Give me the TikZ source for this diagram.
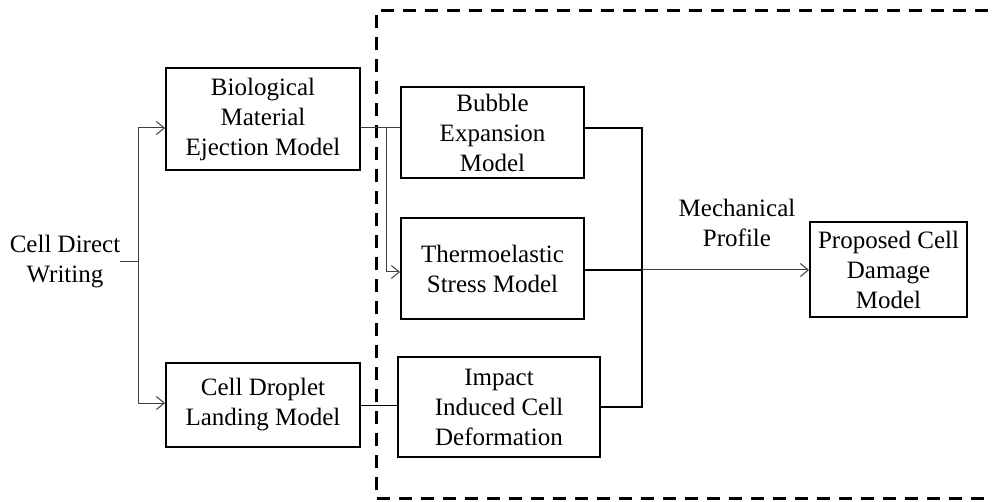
\documentclass[tikz,border=0pt]{standalone}
\usepackage{fontspec}
\setmainfont{Liberation Serif}
\usetikzlibrary{arrows.meta}
\begin{document}
\begin{tikzpicture}[x=1pt,y=-1pt,
  font=\fontsize{25}{30}\selectfont,
  model/.style={draw=black, line width=1.8pt, align=center, inner sep=0pt},
  label/.style={align=center, inner sep=0pt},
  thin/.style={line width=1pt, draw=black!75},
  bold/.style={line width=1.7pt, draw=black},
  arr/.style={-{Straight Barb[length=8pt,width=13pt,line width=1pt]}},
  group/.style={line width=3pt, dash pattern=on 13pt off 9pt}
]
\useasboundingbox (0,0) rectangle (992,502);

% dashed region holding the mechanical sub-models
\draw[group] (1010,11) -- (376,11) -- (376,498) -- (1010,498);

% models
\node[model, minimum width=194pt, minimum height=102pt] (bio) at (263,119)
  {Biological\\Material\\Ejection Model};
\node[model, minimum width=194pt, minimum height=84pt] (drop) at (263,405)
  {Cell Droplet\\Landing Model};
\node[model, minimum width=183pt, minimum height=91pt] (bub) at (492.5,132.5)
  {Bubble\\Expansion\\Model};
\node[model, minimum width=183pt, minimum height=101pt] (thermo) at (492.5,268.5)
  {Thermoelastic\\Stress Model};
\node[model, minimum width=202pt, minimum height=100pt] (imp) at (499,407)
  {Impact\\Induced Cell\\Deformation};
\node[model, minimum width=157pt, minimum height=95pt] (prop) at (888.5,269.5)
  {Proposed Cell\\Damage\\Model};

% free labels
\node[label] (cdw) at (65,262) {Cell Direct\\Writing};
\node[label] (mech) at (737,223) {Mechanical\\Profile};

% helper coordinates for connector levels
\coordinate (split) at (138,262);
\coordinate (yBio) at (0,128);
\coordinate (yDrop) at (0,403);
\coordinate (fork) at (386,128);
\coordinate (yTh) at (0,272);
\coordinate (merge) at (642,128);
\coordinate (yImp) at (0,405);
\coordinate (yOut) at (0,270);

% cell direct writing splits into the two top-level models
\draw[thin] (cdw.east |- split) -- (split);
\draw[thin, arr] (split) |- (bio.west |- yBio);
\draw[thin, arr] (split) |- (drop.west |- yDrop);

% ejection model feeds bubble and thermoelastic models
\draw[thin] (bio.east |- yBio) -- (bub.west |- yBio);
\draw[thin, arr] (fork) |- (thermo.west |- yTh);

% droplet landing feeds impact deformation
\draw[thin, draw=black] (drop.east |- yImp) -- (imp.west |- yImp);

% outputs merge into the mechanical profile
\draw[bold] (bub.east |- yBio) -- (merge) -- (merge |- imp.east) -- (imp.east);
\draw[bold] (thermo.east |- yOut) -- (merge |- yOut);
\draw[thin, arr] (merge |- yOut) -- (prop.west |- yOut);
\end{tikzpicture}
\end{document}
